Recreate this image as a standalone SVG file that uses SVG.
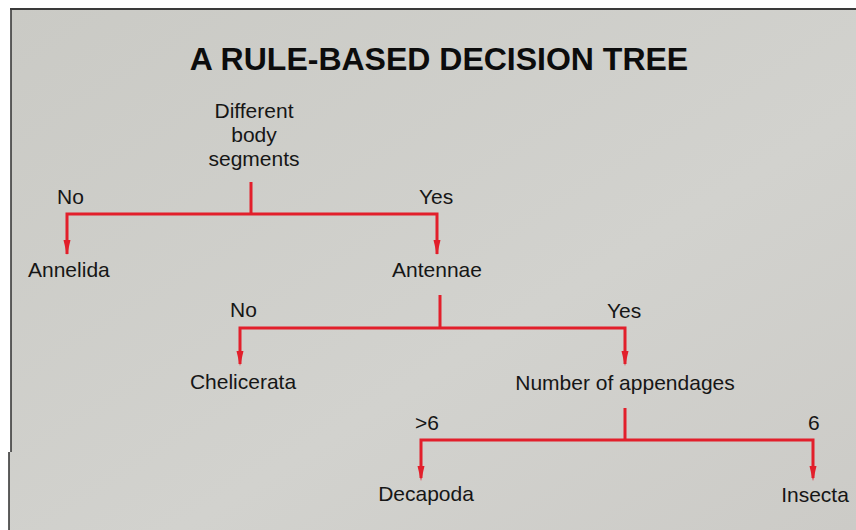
<svg xmlns="http://www.w3.org/2000/svg" width="856" height="530" viewBox="0 0 856 530">
<defs>
<linearGradient id="bg" x1="0" y1="0" x2="1" y2="1">
<stop offset="0" stop-color="#cacac5"/>
<stop offset="0.6" stop-color="#d2d2ce"/>
<stop offset="1" stop-color="#cccbc7"/>
</linearGradient>
<style>
.t{font-family:"Liberation Sans",Arial,sans-serif;font-size:21px;fill:#161616}
.title{font-family:"Liberation Sans",Arial,sans-serif;font-size:32px;font-weight:bold;fill:#0c0c0c}
.c{fill:none;stroke:#e21f2b;stroke-width:3;stroke-linecap:butt}
.a{fill:#e21f2b}
</style>
</defs>
<rect x="0" y="0" width="856" height="530" fill="#ffffff"/>
<path d="M11,9 H856 V530 H9 V452 H11 Z" fill="url(#bg)"/>
<path d="M10,9 H856" stroke="#3a3a3a" stroke-width="2" fill="none"/>
<path d="M11,9 V452 M9,452 V530" stroke="#3a3a3a" stroke-width="1.6" fill="none"/>

<text class="title" x="439" y="70" text-anchor="middle">A RULE-BASED DECISION TREE</text>

<g id="connectors">
<path class="c" d="M251,182 V214"/>
<path class="c" d="M67,254 V214 H437 V254"/>
<path class="c" d="M440,295 V328"/>
<path class="c" d="M240,364 V328 H625 V364"/>
<path class="c" d="M625,408 V440"/>
<path class="c" d="M421,478 V440 H813 V478"/>
<path class="a" d="M63.5,240 H70.5 L67,255 Z"/>
<path class="a" d="M433.5,240 H440.5 L437,255 Z"/>
<path class="a" d="M236.5,351 H243.5 L240,366 Z"/>
<path class="a" d="M621.5,351 H628.5 L625,366 Z"/>
<path class="a" d="M417.5,466 H424.5 L421,481 Z"/>
<path class="a" d="M809.5,466 H816.5 L813,481 Z"/>
<text class="t" x="57" y="204">No</text>
<text class="t" x="419" y="204">Yes</text>
<text class="t" x="230" y="317">No</text>
<text class="t" x="607" y="318">Yes</text>
<text class="t" x="415" y="430">&gt;6</text>
<text class="t" x="808" y="430">6</text>
</g>

<g id="node-root">
<text class="t" text-anchor="middle" x="254" y="118">Different</text>
<text class="t" text-anchor="middle" x="254" y="142">body</text>
<text class="t" text-anchor="middle" x="254" y="166">segments</text>
</g>
<g id="node-annelida"><text class="t" x="28" y="277">Annelida</text></g>
<g id="node-antennae"><text class="t" text-anchor="middle" x="437" y="277">Antennae</text></g>
<g id="node-chelicerata"><text class="t" text-anchor="middle" x="243" y="389">Chelicerata</text></g>
<g id="node-appendages"><text class="t" text-anchor="middle" x="625" y="390">Number of appendages</text></g>
<g id="node-decapoda"><text class="t" text-anchor="middle" x="426" y="501">Decapoda</text></g>
<g id="node-insecta"><text class="t" text-anchor="middle" x="815" y="502">Insecta</text></g>
</svg>
